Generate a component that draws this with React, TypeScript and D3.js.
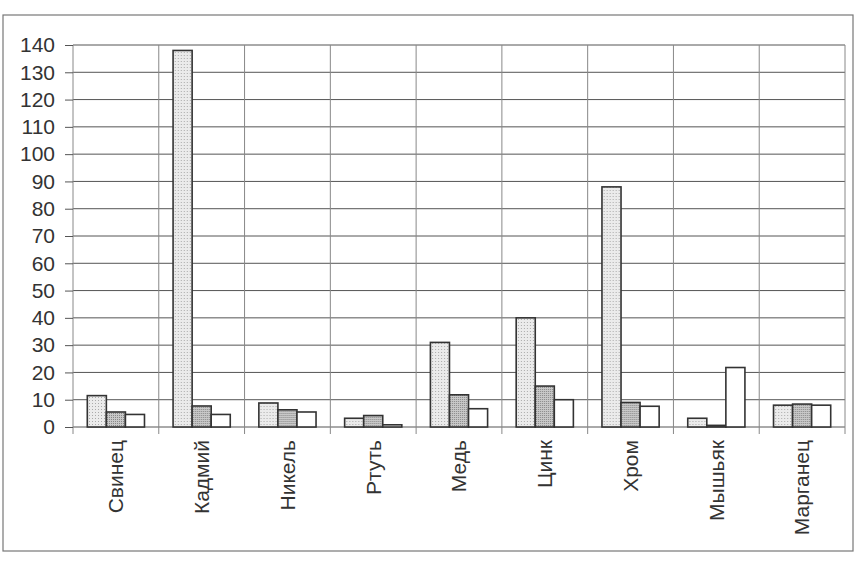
import React, { useRef, useEffect } from "react";
import { select, scaleBand, scaleLinear, axisLeft, axisBottom, range } from "d3";

const categories = ["Свинец", "Кадмий", "Никель", "Ртуть", "Медь", "Цинк", "Хром", "Мышьяк", "Марганец"];
const series1 = [11.5, 138, 8.8, 3.2, 31, 40, 88, 3.2, 8];
const series2 = [5.5, 7.7, 6.3, 4.2, 11.8, 15, 9, 0.6, 8.4];
const series3 = [4.6, 4.6, 5.5, 0.8, 6.7, 10, 7.6, 21.8, 8];
const yTicks = range(0, 141, 10);

const W = 862;
const H = 569;
const margin = { top: 45, right: 17, bottom: 142, left: 73 };

function App() {
  const svgRef = useRef<SVGSVGElement>(null);

  useEffect(() => {
    const svg = select(svgRef.current);
    const plot = svg.select(".plot");
    const innerW = W - margin.left - margin.right;
    const innerH = H - margin.top - margin.bottom;

    // scales
    const xScale = scaleBand().domain(categories).range([0, innerW]).paddingInner(0).paddingOuter(0);
    const inner = scaleBand()
      .domain(["a", "b", "c"])
      .range([0, xScale.bandwidth()])
      .paddingInner(0)
      .paddingOuter(0.75);
    const yScale = scaleLinear().domain([0, 140]).range([innerH, 0]);

    // y axis
    const yAxis = axisLeft(yScale).tickValues(yTicks).tickSize(8).tickPadding(10);
    plot
      .select(".y-axis")
      .call(yAxis as any)
      .call((g: any) => g.select(".domain").remove())
      .call((g: any) => g.selectAll("text").attr("font-size", 21).attr("fill", "#333").attr("font-family", "'Liberation Sans', Arial, sans-serif"))
      .call((g: any) => g.selectAll("line").attr("stroke", "#555"));

    // horizontal grid
    plot
      .select(".grid-h")
      .selectAll("line")
      .data(yTicks)
      .join("line")
      .attr("x1", 0)
      .attr("x2", innerW)
      .attr("y1", (d) => yScale(d))
      .attr("y2", (d) => yScale(d))
      .attr("stroke", "#555")
      .attr("stroke-width", 1);

    // vertical category lines
    const bounds = [...categories.map((c) => xScale(c) as number), innerW];
    plot
      .select(".grid-v")
      .selectAll("line")
      .data(bounds)
      .join("line")
      .attr("x1", (d) => d)
      .attr("x2", (d) => d)
      .attr("y1", 0)
      .attr("y2", innerH + 7)
      .attr("stroke", "#888")
      .attr("stroke-width", 1);

    // x axis labels (rotated)
    const xAxis = axisBottom(xScale).tickSize(0).tickPadding(0);
    plot
      .select(".x-axis")
      .attr("transform", `translate(0,${innerH})`)
      .call(xAxis as any)
      .call((g: any) => g.select(".domain").remove())
      .call((g: any) =>
        g
          .selectAll("text")
          .attr("font-size", 21)
          .attr("fill", "#333")
          .attr("font-family", "'Liberation Sans', Arial, sans-serif")
          .attr("text-anchor", "end")
          .attr("dy", "0.35em")
          .attr("transform", "translate(0,13) rotate(-90)")
      );

    // bars
    const rows = categories.map((c, i) => ({ c, vals: [series1[i], series2[i], series3[i]] }));
    const fills = ["url(#dotsLight)", "url(#dotsDark)", "#fff"];
    plot
      .select(".bars")
      .selectAll("g")
      .data(rows)
      .join("g")
      .attr("transform", (d) => `translate(${xScale(d.c)},0)`)
      .selectAll("rect")
      .data((d) => d.vals.map((v, k) => ({ v, k })))
      .join("rect")
      .attr("x", (d) => inner(["a", "b", "c"][d.k]) as number)
      .attr("width", inner.bandwidth())
      .attr("y", (d) => yScale(d.v))
      .attr("height", (d) => innerH - yScale(d.v))
      .attr("fill", (d) => fills[d.k])
      .attr("stroke", "#333")
      .attr("stroke-width", 1.6);
  }, []);

  return (
    <svg
      ref={svgRef}
      width={W}
      height={H}
      style={{ position: "absolute", left: 0, top: 0, background: "#fff" }}
    >
      <defs>
        <pattern id="dotsLight" width="3" height="3" patternUnits="userSpaceOnUse">
          <rect width="3" height="3" fill="#ebebeb" />
          <rect x="1" y="1" width="1" height="1" fill="#aaa" />
        </pattern>
        <pattern id="dotsDark" width="2" height="2" patternUnits="userSpaceOnUse">
          <rect width="2" height="2" fill="#c8c8c8" />
          <rect x="0" y="0" width="1" height="1" fill="#888" />
        </pattern>
      </defs>
      <rect x={3} y={15} width={850} height={536} fill="#fff" stroke="#777" strokeWidth={1.2} />
      <g className="plot" transform={`translate(${margin.left},${margin.top})`}>
        <g className="grid-h" />
        <g className="grid-v" />
        <g className="y-axis" />
        <g className="x-axis" />
        <g className="bars" />
      </g>
    </svg>
  );
}

export default App;
